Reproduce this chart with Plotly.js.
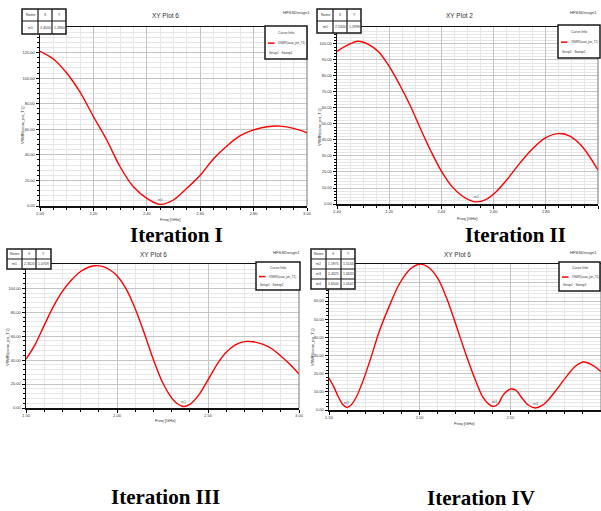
<!DOCTYPE html>
<html>
<head>
<meta charset="utf-8">
<script src="https://cdn.plot.ly/plotly-3.0.1.min.js"></script>
<style>html,body{margin:0;padding:0;background:#fff;}#chart{width:601px;height:511px;}</style>
</head>
<body>
<div id="chart"></div>
<script>
// ---------- data ----------
const freq1 = [2.00,2.05,2.10,2.15,2.20,2.25,2.30,2.35,2.40,2.45,2.50,2.55,2.60,2.65,2.70,2.75,2.80,2.85,2.90,2.95,3.00];
const vswr1 = [121,115,104,89,70,51.6,30.7,15,6,1.3,4.7,13.8,24,37,47,55,59.5,62,62.5,60.7,57.3];

const freq2 = [2.00,2.04,2.08,2.12,2.16,2.20,2.24,2.28,2.32,2.36,2.40,2.44,2.48,2.51,2.535,2.57,2.61,2.65,2.70,2.75,2.80,2.85,2.89,2.94,3.00];
const vswr2 = [95.4,99.2,101.7,99.8,95,86,74.5,61.7,47,33,20.5,11,5,2.3,1.3,2.8,7.7,15,25.4,34.7,41.5,44,42.5,35.8,21.2];

const freq3 = [1.50,1.55,1.60,1.65,1.70,1.75,1.80,1.85,1.88,1.92,1.96,2.00,2.05,2.10,2.15,2.20,2.25,2.30,2.33,2.365,2.40,2.45,2.50,2.55,2.60,2.65,2.70,2.75,2.80,2.85,2.90,2.95,3.00];
const vswr3 = [40.8,53,69,84.7,97.5,107,114,118,118.9,118.3,115.5,110.5,99.5,83,62.5,40.5,21.5,8.5,3.8,1.2,3,11,23.5,36.5,46.5,52.8,55.5,55.3,53.3,49.5,43.5,36.5,28.3];

const freq4 = [1.50,1.525,1.55,1.575,1.5975,1.62,1.65,1.69,1.73,1.78,1.84,1.89,1.95,2.00,2.05,2.10,2.15,2.20,2.26,2.31,2.35,2.39,2.41,2.435,2.46,2.50,2.53,2.565,2.60,2.64,2.675,2.71,2.755,2.81,2.86,2.905,2.95,3.00];
const vswr4 = [17.6,13,7.6,3.2,1.5,2.6,7,16.7,28.5,44,59,69.8,77.8,80.3,78.5,72.5,61.3,47,29.2,15.8,6.8,2.6,2,3.6,8.2,11.5,10.9,6.5,2.6,1.1,2.5,5.7,11.2,18.5,24.2,26.4,24.9,21.2];

const plotTitles = ["XY Plot 6","XY Plot 2","XY Plot 6","XY Plot 6"];
const captions = ["Iteration I","Iteration II","Iteration III","Iteration IV"];
const tableHeader = ["Name","X","Y"];
const markers1 = [["m1","2.4500","1.2960"]];
const markers2 = [["m1","2.5300","1.2998"]];
const markers3 = [["m1","2.3620","1.0709"]];
const markers4 = [["m2","1.5975","1.5144"],["m3","2.4325","1.6632"],["m4","2.6500","1.0547"]];
const markerPts1 = {name:["m1"], x:[2.45], y:[1.3]};
const markerPts2 = {name:["m1"], x:[2.535], y:[1.3]};
const markerPts3 = {name:["m1"], x:[2.365], y:[1.2]};
const markerPts4 = {name:["m2","m3","m4"], x:[1.5975,2.41,2.64], y:[1.5,2.0,1.1]};
const yTicks1 = [0,20,40,60,80,100,120];
const yTicks2 = [0,10,20,30,40,50,60,70,80,90,100];
const yTicks3 = [0,20,40,60,80,100];
const yTicks4 = [0,10,20,30,40,50,60,70];
const yLabels4 = ["0.00","10.00","20.00","30.00","40.00","50.00","60.00",""];
const xTicks12 = [2.0,2.2,2.4,2.6,2.8,3.0];
const xTicks34 = [1.5,2.0,2.5,3.0];
const curveName = "VSWR(coax_pin_T1)";
const setupName = "Setup1 : Sweep1";

// ---------- layout helpers ----------
const W = 601, H = 511;
const px = x => x / W;
const py = y => 1 - y / H;
const FONT = "Liberation Sans, Arial, sans-serif";

function xAxis(domain, range, tickvals, minorD, anchor) {
  return {
    domain: [px(domain[0]), px(domain[1])], range: range, anchor: anchor,
    tickvals: tickvals, tickformat: ".2f",
    showgrid: true, gridcolor: "#c4c4c4", gridwidth: 1,
    minor: {dtick: minorD, showgrid: true, gridcolor: "#e6e6e6", ticks: "outside", ticklen: 2, tickcolor: "#000"},
    ticks: "outside", ticklen: 3, tickcolor: "#000",
    showline: true, linecolor: "#111", linewidth: 1.5, mirror: true,
    zeroline: false,
    tickfont: {family: FONT, size: 4, color: "#333"}
  };
}
function yAxis(domain, range, tickvals, minorD, anchor, ticktext) {
  const a = {
    domain: [py(domain[1]), py(domain[0])], range: range, anchor: anchor,
    tickvals: tickvals, tickformat: ".2f",
    showgrid: true, gridcolor: "#c4c4c4", gridwidth: 1,
    minor: {dtick: minorD, showgrid: true, gridcolor: "#e6e6e6", ticks: "outside", ticklen: 2, tickcolor: "#000"},
    ticks: "outside", ticklen: 3, tickcolor: "#000",
    showline: true, linecolor: "#111", linewidth: 1.5,
    zeroline: false,
    tickfont: {family: FONT, size: 4, color: "#333"}
  };
  if (ticktext) a.ticktext = ticktext;
  return a;
}

const shapes = [];
const annotations = [];

function pline(x0, y0, x1, y1, color, width) {
  shapes.push({type: "line", xref: "paper", yref: "paper", x0: px(x0), x1: px(x1), y0: py(y0), y1: py(y1),
    line: {color: color, width: width}, layer: "above"});
}
function prect(x0, y0, x1, y1, width) {
  shapes.push({type: "rect", xref: "paper", yref: "paper", x0: px(x0), x1: px(x1), y0: py(y1), y1: py(y0),
    line: {color: "#1a1a1a", width: width}, fillcolor: "#ffffff", layer: "above"});
}
function ptext(x, y, text, size, opts) {
  opts = opts || {};
  annotations.push(Object.assign({xref: "paper", yref: "paper", x: px(x), y: py(y), text: text, showarrow: false,
    xanchor: "center", yanchor: "middle", font: {family: FONT, size: size, color: "#333"}}, opts));
}

function table(cols, rows, data) {
  prect(cols[0], rows[0], cols[3], rows[rows.length - 1], 1.5);
  for (let i = 1; i < 3; i++) pline(cols[i], rows[0], cols[i], rows[rows.length - 1], "#1a1a1a", 1.2);
  for (let j = 1; j < rows.length - 1; j++) pline(cols[0], rows[j], cols[3], rows[j], "#1a1a1a", 1.2);
  const all = [tableHeader].concat(data);
  all.forEach((row, j) => {
    row.forEach((t, i) => {
      ptext((cols[i] + cols[i + 1]) / 2, (rows[j] + rows[j + 1]) / 2, t, 3.5, {font: {family: FONT, size: 3.5, color: "#333"}});
    });
  });
}

function legendBox(x0, y0, x1, y1) {
  prect(x0, y0, x1, y1, 1.5);
  const h = y1 - y0;
  ptext((x0 + x1) / 2, y0 + h * 0.2, "Curve Info", 3.5);
  pline(x0 + 3, y0 + h * 0.52, x0 + 9.5, y0 + h * 0.52, "#ff0000", 1.5);
  ptext(x0 + 10.5, y0 + h * 0.52, curveName, 2.9, {xanchor: "left"});
  ptext(x0 + 2, y0 + h * 0.81, setupName, 3.1, {xanchor: "left"});
}

function rightBorder(xa, ya) {
  shapes.push({type: "line", xref: xa + " domain", yref: ya + " domain", x0: 1, x1: 1, y0: 0, y1: 1,
    line: {color: "#777", width: 1}, layer: "above"});
}

function markerLabels(pts, xa, ya) {
  pts.name.forEach((n, i) => {
    annotations.push({xref: xa, yref: ya, x: pts.x[i], y: pts.y[i], text: n, showarrow: false,
      yanchor: "bottom", yshift: 0.5, font: {family: FONT, size: 3.5, color: "#555"}});
  });
}

// ---------- plot frames ----------
const frames = [
  {x: [40, 307], y: [27, 206]},
  {x: [337, 598], y: [27, 204]},
  {x: [26, 299], y: [264, 408]},
  {x: [329, 601], y: [264, 410]}
];

const layout = {
  width: W, height: H, margin: {l: 0, r: 0, t: 0, b: 0},
  paper_bgcolor: "#ffffff", plot_bgcolor: "#ffffff", showlegend: false,
  xaxis:  xAxis(frames[0].x, [2.0, 3.0], xTicks12, 0.05, "y"),
  yaxis:  yAxis(frames[0].y, [0, 140], yTicks1, 4, "x"),
  xaxis2: xAxis(frames[1].x, [2.0, 3.0], xTicks12, 0.05, "y2"),
  yaxis2: yAxis(frames[1].y, [0, 110.6], yTicks2, 2, "x2"),
  xaxis3: xAxis(frames[2].x, [1.5, 3.0], xTicks34, 0.1, "y3"),
  yaxis3: yAxis(frames[2].y, [0, 120.3], yTicks3, 4, "x3"),
  xaxis4: xAxis(frames[3].x, [1.5, 3.0], xTicks34, 0.1, "y4"),
  yaxis4: yAxis(frames[3].y, [0, 80.4], yTicks4, 2, "x4", yLabels4),
  shapes: shapes, annotations: annotations
};

rightBorder("x", "y"); rightBorder("x2", "y2"); rightBorder("x3", "y3"); rightBorder("x4", "y4");

// tables
table([22, 38, 52, 66], [9, 21, 34], markers1);
table([317, 333, 347, 361], [9, 21, 33], markers2);
table([7, 22, 36, 51], [249, 259, 269], markers3);
table([311, 326, 341, 355], [249, 259, 269, 279, 289], markers4);

// legend boxes
legendBox(265, 26, 307, 59);
legendBox(558, 25, 600, 58);
legendBox(256, 262, 300, 290);
legendBox(559, 262, 600, 291);

// plot titles
ptext(165, 15, plotTitles[0], 6.5);
ptext(459, 15, plotTitles[1], 6.5);
ptext(153, 254, plotTitles[2], 6.5);
ptext(457, 254, plotTitles[3], 6.5);

// design labels
ptext(312, 12, "HFSSDesign1", 4.2, {xanchor: "right"});
ptext(599, 12, "HFSSDesign1", 4.2, {xanchor: "right"});
ptext(302, 253, "HFSSDesign1", 4.2, {xanchor: "right"});
ptext(599, 253, "HFSSDesign1", 4.2, {xanchor: "right"});

// axis titles
ptext(170, 219, "Freq [GHz]", 4.2);
ptext(467, 218, "Freq [GHz]", 4.2);
ptext(165, 420, "Freq [GHz]", 4.2);
ptext(464, 423, "Freq [GHz]", 4.2);
ptext(23, 125, curveName, 4, {textangle: -90});
ptext(319, 127, curveName, 4, {textangle: -90});
ptext(7, 347, curveName, 4, {textangle: -90});
ptext(312, 347, curveName, 4, {textangle: -90});

// marker labels
markerLabels(markerPts1, "x", "y");
markerLabels(markerPts2, "x2", "y2");
markerLabels(markerPts3, "x3", "y3");
markerLabels(markerPts4, "x4", "y4");

// captions
const capFont = {family: "Liberation Serif, Times New Roman, serif", size: 21, color: "#000"};
ptext(176.5, 235, "<b>" + captions[0] + "</b>", 21, {font: capFont});
ptext(515, 235, "<b>" + captions[1] + "</b>", 21, {font: capFont});
ptext(165, 497, "<b>" + captions[2] + "</b>", 21, {font: capFont});
ptext(481, 498, "<b>" + captions[3] + "</b>", 21, {font: capFont});

function trace(x, y, xa, ya) {
  return {x: x, y: y, xaxis: xa, yaxis: ya, type: "scatter", mode: "lines",
    line: {color: "#ff0000", width: 1.4, shape: "spline", smoothing: 0.9}, cliponaxis: true, hoverinfo: "skip"};
}
const data = [
  trace(freq1, vswr1, "x", "y"),
  trace(freq2, vswr2, "x2", "y2"),
  trace(freq3, vswr3, "x3", "y3"),
  trace(freq4, vswr4, "x4", "y4")
];

Plotly.newPlot("chart", data, layout, {staticPlot: true, displayModeBar: false});
</script>
</body>
</html>
